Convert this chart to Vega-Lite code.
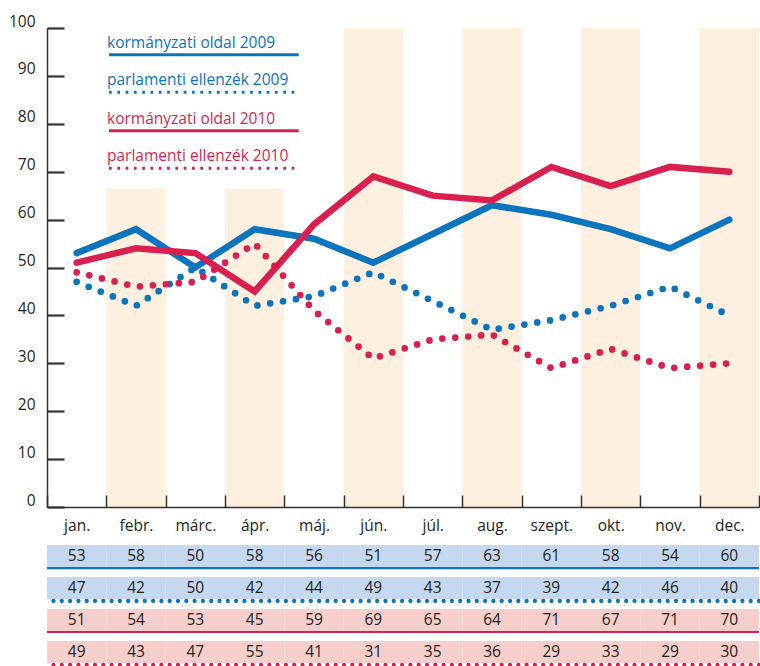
{
  "$schema": "https://vega.github.io/schema/vega-lite/v6.json",
  "padding": {"left": 8, "top": 14, "right": 0, "bottom": 0},
  "spacing": 11,
  "config": {"view": {"stroke": null}, "font": "Open Sans"},
  "resolve": {"scale": {"stroke": "independent", "strokeDash": "independent"}, "legend": {"stroke": "independent", "strokeDash": "independent"}},
  "datasets": {
    "bands": [
      {"month": "febr.", "top": 66.5},
      {"month": "ápr.", "top": 66.5},
      {"month": "jún.", "top": 100},
      {"month": "aug.", "top": 100},
      {"month": "okt.", "top": 100},
      {"month": "dec.", "top": 100}
    ],
    "d": [
      {"series": "kormányzati oldal 2009", "month": "jan.", "value": 53, "chart": 53},
      {"series": "kormányzati oldal 2009", "month": "febr.", "value": 58, "chart": 58},
      {"series": "kormányzati oldal 2009", "month": "márc.", "value": 50, "chart": 50},
      {"series": "kormányzati oldal 2009", "month": "ápr.", "value": 58, "chart": 58},
      {"series": "kormányzati oldal 2009", "month": "máj.", "value": 56, "chart": 56},
      {"series": "kormányzati oldal 2009", "month": "jún.", "value": 51, "chart": 51},
      {"series": "kormányzati oldal 2009", "month": "júl.", "value": 57, "chart": 57},
      {"series": "kormányzati oldal 2009", "month": "aug.", "value": 63, "chart": 63},
      {"series": "kormányzati oldal 2009", "month": "szept.", "value": 61, "chart": 61},
      {"series": "kormányzati oldal 2009", "month": "okt.", "value": 58, "chart": 58},
      {"series": "kormányzati oldal 2009", "month": "nov.", "value": 54, "chart": 54},
      {"series": "kormányzati oldal 2009", "month": "dec.", "value": 60, "chart": 60},
      {"series": "parlamenti ellenzék 2009", "month": "jan.", "value": 47, "chart": 47},
      {"series": "parlamenti ellenzék 2009", "month": "febr.", "value": 42, "chart": 42},
      {"series": "parlamenti ellenzék 2009", "month": "márc.", "value": 50, "chart": 50},
      {"series": "parlamenti ellenzék 2009", "month": "ápr.", "value": 42, "chart": 42},
      {"series": "parlamenti ellenzék 2009", "month": "máj.", "value": 44, "chart": 44},
      {"series": "parlamenti ellenzék 2009", "month": "jún.", "value": 49, "chart": 49},
      {"series": "parlamenti ellenzék 2009", "month": "júl.", "value": 43, "chart": 43},
      {"series": "parlamenti ellenzék 2009", "month": "aug.", "value": 37, "chart": 37},
      {"series": "parlamenti ellenzék 2009", "month": "szept.", "value": 39, "chart": 39},
      {"series": "parlamenti ellenzék 2009", "month": "okt.", "value": 42, "chart": 42},
      {"series": "parlamenti ellenzék 2009", "month": "nov.", "value": 46, "chart": 46},
      {"series": "parlamenti ellenzék 2009", "month": "dec.", "value": 40, "chart": 40},
      {"series": "kormányzati oldal 2010", "month": "jan.", "value": 51, "chart": 51},
      {"series": "kormányzati oldal 2010", "month": "febr.", "value": 54, "chart": 54},
      {"series": "kormányzati oldal 2010", "month": "márc.", "value": 53, "chart": 53},
      {"series": "kormányzati oldal 2010", "month": "ápr.", "value": 45, "chart": 45},
      {"series": "kormányzati oldal 2010", "month": "máj.", "value": 59, "chart": 59},
      {"series": "kormányzati oldal 2010", "month": "jún.", "value": 69, "chart": 69},
      {"series": "kormányzati oldal 2010", "month": "júl.", "value": 65, "chart": 65},
      {"series": "kormányzati oldal 2010", "month": "aug.", "value": 64, "chart": 64},
      {"series": "kormányzati oldal 2010", "month": "szept.", "value": 71, "chart": 71},
      {"series": "kormányzati oldal 2010", "month": "okt.", "value": 67, "chart": 67},
      {"series": "kormányzati oldal 2010", "month": "nov.", "value": 71, "chart": 71},
      {"series": "kormányzati oldal 2010", "month": "dec.", "value": 70, "chart": 70},
      {"series": "parlamenti ellenzék 2010", "month": "jan.", "value": 49, "chart": 49},
      {"series": "parlamenti ellenzék 2010", "month": "febr.", "value": 43, "chart": 46},
      {"series": "parlamenti ellenzék 2010", "month": "márc.", "value": 47, "chart": 47},
      {"series": "parlamenti ellenzék 2010", "month": "ápr.", "value": 55, "chart": 55},
      {"series": "parlamenti ellenzék 2010", "month": "máj.", "value": 41, "chart": 41},
      {"series": "parlamenti ellenzék 2010", "month": "jún.", "value": 31, "chart": 31},
      {"series": "parlamenti ellenzék 2010", "month": "júl.", "value": 35, "chart": 35},
      {"series": "parlamenti ellenzék 2010", "month": "aug.", "value": 36, "chart": 36},
      {"series": "parlamenti ellenzék 2010", "month": "szept.", "value": 29, "chart": 29},
      {"series": "parlamenti ellenzék 2010", "month": "okt.", "value": 33, "chart": 33},
      {"series": "parlamenti ellenzék 2010", "month": "nov.", "value": 29, "chart": 29},
      {"series": "parlamenti ellenzék 2010", "month": "dec.", "value": 30, "chart": 30}
    ]
  },
  "vconcat": [
    {
      "width": 712,
      "height": 479,
      "resolve": {"scale": {"stroke": "independent", "strokeDash": "independent"}, "legend": {"stroke": "independent", "strokeDash": "independent"}},
      "layer": [
        {
          "data": {"name": "bands"},
          "mark": {"type": "bar", "color": "#fdf0e1"},
          "encoding": {
            "x": {
              "field": "month", "type": "ordinal", "title": null,
              "scale": {"domain": ["jan.", "febr.", "márc.", "ápr.", "máj.", "jún.", "júl.", "aug.", "szept.", "okt.", "nov.", "dec."], "paddingInner": 0, "paddingOuter": 0},
              "axis": {"tickBand": "extent", "tickSize": -12, "tickWidth": 1.5, "tickColor": "#333333", "domainColor": "#333333", "domainWidth": 1.5, "labelAngle": 0, "labelFont": "Open Sans", "labelFontSize": 15.5, "labelColor": "#231f20", "labelPadding": 23, "zindex": 1}
            },
            "y": {
              "field": "top", "type": "quantitative", "title": null,
              "scale": {"domain": [0, 100], "nice": false},
              "axis": {"values": [0, 10, 20, 30, 40, 50, 60, 70, 80, 90, 100], "grid": false, "tickSize": -17, "tickWidth": 2.2, "tickColor": "#333333", "domainColor": "#333333", "domainWidth": 1.5, "labelFont": "Open Sans", "labelFontSize": 15.5, "labelColor": "#231f20", "labelBaseline": "alphabetic", "labelOffset": -2, "labelPadding": 29, "zindex": 1}
            }
          }
        },
        {
          "data": {"name": "d"},
          "transform": [{"filter": "datum.series === 'kormányzati oldal 2009'"}],
          "mark": {"type": "line", "color": "#0a74bd", "strokeWidth": 6.5, "strokeCap": "round", "strokeJoin": "miter"},
          "encoding": {"x": {"field": "month", "type": "ordinal"}, "y": {"field": "chart", "type": "quantitative"}}
        },
        {
          "data": {"name": "d"},
          "transform": [{"filter": "datum.series === 'parlamenti ellenzék 2009'"}],
          "mark": {"type": "line", "color": "#0a74bd", "strokeWidth": 6.7, "strokeCap": "round", "strokeDash": [0, 13]},
          "encoding": {"x": {"field": "month", "type": "ordinal"}, "y": {"field": "chart", "type": "quantitative"}}
        },
        {
          "data": {"name": "d"},
          "transform": [{"filter": "datum.series === 'kormányzati oldal 2010'"}],
          "mark": {"type": "line", "color": "#d91f4f", "strokeWidth": 6.5, "strokeCap": "round", "strokeJoin": "miter"},
          "encoding": {"x": {"field": "month", "type": "ordinal"}, "y": {"field": "chart", "type": "quantitative"}}
        },
        {
          "data": {"name": "d"},
          "transform": [{"filter": "datum.series === 'parlamenti ellenzék 2010'"}],
          "mark": {"type": "line", "color": "#d91f4f", "strokeWidth": 6.7, "strokeCap": "round", "strokeDash": [0, 13]},
          "encoding": {"x": {"field": "month", "type": "ordinal"}, "y": {"field": "chart", "type": "quantitative"}}
        },
        {
          "data": {"name": "d"},
          "transform": [{"filter": "false"}],
          "mark": {"type": "line"},
          "encoding": {
            "x": {"field": "month", "type": "ordinal"},
            "y": {"field": "chart", "type": "quantitative"},
            "stroke": {
              "field": "series", "type": "nominal",
              "scale": {"domain": ["kormányzati oldal 2009", "parlamenti ellenzék 2009"], "range": ["#0a74bd", "#0a74bd"]},
              "legend": {
                "title": null, "orient": "none", "legendX": 59, "legendY": 12,
                "symbolType": "M-1,1.5H39", "symbolSize": 90, "symbolStrokeWidth": 3, "symbolOpacity": 1,
                "labelOffset": -14.5, "labelFont": "Open Sans", "labelFontSize": 15.5, "labelBaseline": "alphabetic", "labelLimit": 0,
                "labelColor": "#0a74bd", "rowPadding": 11.5
              }
            },
            "strokeDash": {
              "field": "series", "type": "nominal", "legend": null,
              "scale": {"domain": ["kormányzati oldal 2009", "parlamenti ellenzék 2009"], "range": [[1, 0], [2.7, 5.6]]}
            }
          }
        },
        {
          "data": {"name": "d"},
          "transform": [{"filter": "false"}],
          "mark": {"type": "line"},
          "encoding": {
            "x": {"field": "month", "type": "ordinal"},
            "y": {"field": "chart", "type": "quantitative"},
            "stroke": {
              "field": "series", "type": "nominal",
              "scale": {"domain": ["kormányzati oldal 2010", "parlamenti ellenzék 2010"], "range": ["#d91f4f", "#d91f4f"]},
              "legend": {
                "title": null, "orient": "none", "legendX": 59, "legendY": 88,
                "symbolType": "M-1,1.5H39", "symbolSize": 90, "symbolStrokeWidth": 3, "symbolOpacity": 1,
                "labelOffset": -14.5, "labelFont": "Open Sans", "labelFontSize": 15.5, "labelBaseline": "alphabetic", "labelLimit": 0,
                "labelColor": "#d91f4f", "rowPadding": 11.5
              }
            },
            "strokeDash": {
              "field": "series", "type": "nominal", "legend": null,
              "scale": {"domain": ["kormányzati oldal 2010", "parlamenti ellenzék 2010"], "range": [[1, 0], [2.7, 5.6]]}
            }
          }
        }
      ]
    },
    {
      "width": 712,
      "height": 118,
      "data": {"name": "d"},
      "encoding": {
        "y": {
          "field": "series", "type": "nominal", "axis": null,
          "scale": {"domain": ["kormányzati oldal 2009", "parlamenti ellenzék 2009", "kormányzati oldal 2010", "parlamenti ellenzék 2010"], "paddingInner": 0.31, "paddingOuter": 0}
        }
      },
      "layer": [
        {
          "mark": {"type": "rect"},
          "encoding": {
            "x": {"field": "month", "type": "ordinal", "axis": null, "scale": {"domain": ["jan.", "febr.", "márc.", "ápr.", "máj.", "jún.", "júl.", "aug.", "szept.", "okt.", "nov.", "dec."], "paddingInner": 0, "paddingOuter": 0}},
            "fill": {
              "field": "series", "type": "nominal", "legend": null,
              "scale": {"domain": ["kormányzati oldal 2009", "parlamenti ellenzék 2009", "kormányzati oldal 2010", "parlamenti ellenzék 2010"], "range": ["#c6d8ef", "#c6d8ef", "#f6cecb", "#f6cecb"]}
            }
          }
        },
        {
          "mark": {"type": "text", "fontSize": 15.5, "color": "#231f20", "font": "Open Sans"},
          "encoding": {
            "x": {"field": "month", "type": "ordinal"},
            "text": {"field": "value", "type": "quantitative"}
          }
        },
        {
          "transform": [
            {"filter": "indexof(datum.series, 'kormányzati') >= 0"},
            {"aggregate": [{"op": "count", "as": "n"}], "groupby": ["series"]}
          ],
          "mark": {"type": "rule", "strokeWidth": 2.2, "yOffset": 12},
          "encoding": {
            "color": {
              "field": "series", "type": "nominal", "legend": null,
              "scale": {"domain": ["kormányzati oldal 2009", "parlamenti ellenzék 2009", "kormányzati oldal 2010", "parlamenti ellenzék 2010"], "range": ["#0a74bd", "#0a74bd", "#d91f4f", "#d91f4f"]}
            }
          }
        },
        {
          "transform": [
            {"filter": "indexof(datum.series, 'parlamenti') >= 0"},
            {"aggregate": [{"op": "count", "as": "n"}], "groupby": ["series"]}
          ],
          "mark": {"type": "rule", "strokeWidth": 4.3, "strokeDash": [0, 8.3], "strokeCap": "round", "yOffset": 13},
          "encoding": {
            "color": {"field": "series", "type": "nominal", "legend": null}
          }
        }
      ]
    }
  ]
}
